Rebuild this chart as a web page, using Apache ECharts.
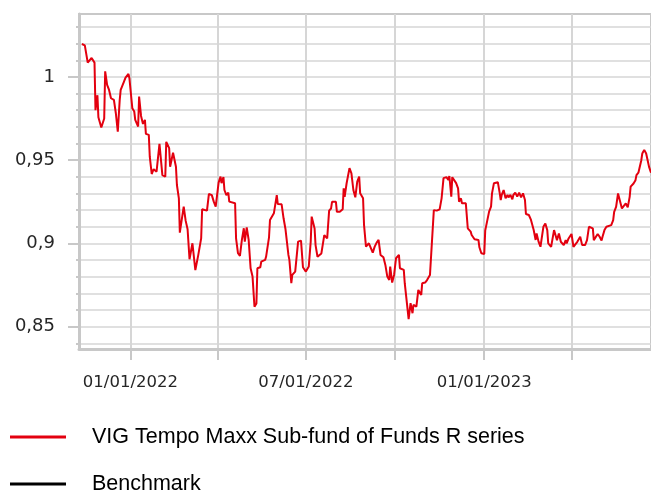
<!DOCTYPE html>
<html>
<head>
<meta charset="utf-8">
<title>VIG Tempo Maxx</title>
<script src="https://cdn.jsdelivr.net/npm/echarts@6/dist/echarts.min.js"></script>
<style>
  html, body { margin: 0; padding: 0; background: #fff; }
  #chart { width: 651px; height: 491px; }
</style>
</head>
<body>
<div id="chart"></div>
<script>
// (net asset value, rebased)
const dates = [
  '2021-11-12', '2021-11-15', '2021-11-18', '2021-11-20', '2021-11-22', '2021-11-25', '2021-11-26', '2021-11-28',
  '2021-11-29', '2021-12-01', '2021-12-02', '2021-12-05', '2021-12-06', '2021-12-08', '2021-12-10', '2021-12-12',
  '2021-12-15', '2021-12-17', '2021-12-19', '2021-12-21', '2021-12-22', '2021-12-25', '2021-12-27', '2021-12-30',
  '2021-12-31', '2022-01-02', '2022-01-03', '2022-01-05', '2022-01-06', '2022-01-09', '2022-01-10', '2022-01-12',
  '2022-01-14', '2022-01-16', '2022-01-17', '2022-01-20', '2022-01-21', '2022-01-23', '2022-01-25', '2022-01-28',
  '2022-01-31', '2022-02-03', '2022-02-06', '2022-02-07', '2022-02-10', '2022-02-11', '2022-02-13', '2022-02-14',
  '2022-02-17', '2022-02-18', '2022-02-20', '2022-02-21', '2022-02-25', '2022-02-27', '2022-03-01', '2022-03-03',
  '2022-03-06', '2022-03-09', '2022-03-12', '2022-03-15', '2022-03-16', '2022-03-21', '2022-03-23', '2022-03-26',
  '2022-03-28', '2022-03-30', '2022-04-02', '2022-04-04', '2022-04-05', '2022-04-07', '2022-04-08', '2022-04-10',
  '2022-04-12', '2022-04-13', '2022-04-19', '2022-04-20', '2022-04-22', '2022-04-24', '2022-04-26', '2022-04-28',
  '2022-04-29', '2022-04-30', '2022-05-01', '2022-05-03', '2022-05-05', '2022-05-07', '2022-05-09', '2022-05-11',
  '2022-05-12', '2022-05-15', '2022-05-16', '2022-05-20', '2022-05-21', '2022-05-23', '2022-05-24', '2022-05-25',
  '2022-05-29', '2022-06-01', '2022-06-02', '2022-06-04', '2022-06-06', '2022-06-08', '2022-06-10', '2022-06-13',
  '2022-06-14', '2022-06-16', '2022-06-17', '2022-06-19', '2022-06-20', '2022-06-22', '2022-06-23', '2022-06-26',
  '2022-06-28', '2022-07-01', '2022-07-04', '2022-07-06', '2022-07-07', '2022-07-10', '2022-07-11', '2022-07-13',
  '2022-07-17', '2022-07-20', '2022-07-23', '2022-07-25', '2022-07-27', '2022-07-28', '2022-08-01', '2022-08-02',
  '2022-08-05', '2022-08-08', '2022-08-09', '2022-08-10', '2022-08-12', '2022-08-15', '2022-08-17', '2022-08-19',
  '2022-08-21', '2022-08-23', '2022-08-25', '2022-08-26', '2022-08-29', '2022-08-30', '2022-09-01', '2022-09-04',
  '2022-09-06', '2022-09-08', '2022-09-10', '2022-09-12', '2022-09-14', '2022-09-16', '2022-09-19', '2022-09-21',
  '2022-09-23', '2022-09-25', '2022-09-26', '2022-09-28', '2022-09-30', '2022-10-02', '2022-10-05', '2022-10-06',
  '2022-10-10', '2022-10-11', '2022-10-13', '2022-10-15', '2022-10-17', '2022-10-19', '2022-10-20', '2022-10-23',
  '2022-10-25', '2022-10-28', '2022-10-29', '2022-11-01', '2022-11-03', '2022-11-06', '2022-11-10', '2022-11-13',
  '2022-11-16', '2022-11-18', '2022-11-20', '2022-11-23', '2022-11-25', '2022-11-26', '2022-11-28', '2022-11-29',
  '2022-12-01', '2022-12-03', '2022-12-05', '2022-12-06', '2022-12-08', '2022-12-09', '2022-12-11', '2022-12-13',
  '2022-12-15', '2022-12-18', '2022-12-19', '2022-12-22', '2022-12-26', '2022-12-27', '2022-12-29', '2023-01-01',
  '2023-01-02', '2023-01-04', '2023-01-06', '2023-01-08', '2023-01-09', '2023-01-11', '2023-01-13', '2023-01-15',
  '2023-01-17', '2023-01-18', '2023-01-19', '2023-01-21', '2023-01-23', '2023-01-25', '2023-01-26', '2023-01-28',
  '2023-01-30', '2023-01-31', '2023-02-02', '2023-02-04', '2023-02-06', '2023-02-08', '2023-02-10', '2023-02-12',
  '2023-02-13', '2023-02-16', '2023-02-18', '2023-02-19', '2023-02-21', '2023-02-22', '2023-02-23', '2023-02-24',
  '2023-02-26', '2023-02-28', '2023-03-03', '2023-03-05', '2023-03-07', '2023-03-08', '2023-03-11', '2023-03-13',
  '2023-03-14', '2023-03-16', '2023-03-17', '2023-03-19', '2023-03-21', '2023-03-22', '2023-03-24', '2023-03-26',
  '2023-03-27', '2023-03-29', '2023-04-01', '2023-04-02', '2023-04-03', '2023-04-05', '2023-04-07', '2023-04-10',
  '2023-04-12', '2023-04-15', '2023-04-17', '2023-04-19', '2023-04-21', '2023-04-23', '2023-04-24', '2023-04-26',
  '2023-04-28', '2023-04-30', '2023-05-02', '2023-05-03', '2023-05-05', '2023-05-07', '2023-05-09', '2023-05-12',
  '2023-05-14', '2023-05-15', '2023-05-17', '2023-05-19', '2023-05-21', '2023-05-23', '2023-05-25', '2023-05-27',
  '2023-05-29', '2023-05-31', '2023-06-01', '2023-06-04', '2023-06-06', '2023-06-07', '2023-06-09', '2023-06-11',
  '2023-06-12', '2023-06-13', '2023-06-15', '2023-06-17', '2023-06-19', '2023-06-20', '2023-06-22'
]
const fundValues = [
  1.0198, 1.019, 1.0086, 1.0098, 1.0114, 1.0086, 0.980, 0.989,
  0.9758, 0.975, 0.9696, 0.975, 1.0034, 0.9952, 0.9922, 0.9872,
  0.9862, 0.9782, 0.9671, 0.9862, 0.9922, 0.9966, 0.9996, 1.0018,
  0.9992, 0.9998, 0.9812, 0.9792, 0.9742, 0.9702, 0.9882, 0.9766,
  0.9718, 0.9742, 0.9658, 0.9652, 0.9521, 0.9417, 0.9446, 0.9431,
  0.9598, 0.941, 0.9401, 0.961, 0.9572, 0.9461, 0.9458, 0.9545,
  0.9461, 0.9351, 0.9271, 0.9065, 0.9221, 0.9137, 0.9085, 0.8905,
  0.9001, 0.884, 0.893, 0.903, 0.9205, 0.9197, 0.9297, 0.929,
  0.9251, 0.9221, 0.9365, 0.9401, 0.9362, 0.9398, 0.9321, 0.929,
  0.9305, 0.9251, 0.9241, 0.9031, 0.8941, 0.8925, 0.9021, 0.9091,
  0.9011, 0.9011, 0.9097, 0.9021, 0.8851, 0.8801, 0.862, 0.864,
  0.8851, 0.8857, 0.8891, 0.8901, 0.8921, 0.8931, 0.9037, 0.9141,
  0.9181, 0.929, 0.9237, 0.9231, 0.9235, 0.9151, 0.9085, 0.8931,
  0.8901, 0.8761, 0.8811, 0.8801, 0.8831, 0.882, 0.9011, 0.9017,
  0.8857, 0.8831, 0.8861, 0.9011, 0.9161, 0.909, 0.899, 0.892,
  0.894, 0.905, 0.903, 0.9197, 0.921, 0.925, 0.925, 0.919,
  0.919, 0.9205, 0.9331, 0.928, 0.936, 0.9452, 0.9421, 0.9321,
  0.9277, 0.9371, 0.9401, 0.9301, 0.9271, 0.9111, 0.8981, 0.9001,
  0.9011, 0.8945, 0.8981, 0.9005, 0.9021, 0.8931, 0.8917, 0.8871,
  0.8801, 0.8781, 0.8861, 0.8765, 0.8811, 0.8911, 0.8931, 0.8851,
  0.8841, 0.8761, 0.8757, 0.8545, 0.8641, 0.8581, 0.8631, 0.862,
  0.8721, 0.8691, 0.8761, 0.8765, 0.878, 0.881, 0.920, 0.9197,
  0.9205, 0.9271, 0.9392, 0.9398, 0.9381, 0.9405, 0.9281, 0.9398,
  0.9392, 0.9362, 0.9331, 0.9251, 0.9271, 0.9241, 0.9251, 0.9241,
  0.9091, 0.9071, 0.9051, 0.9025, 0.9021, 0.8977, 0.8941, 0.8937,
  0.9077, 0.9081, 0.9191, 0.9221, 0.9301, 0.9362, 0.9357, 0.9368,
  0.9301, 0.9261, 0.9291, 0.9321, 0.9271, 0.9291, 0.9277, 0.9291,
  0.9265, 0.9291, 0.9305, 0.9281, 0.9305, 0.9277, 0.9301, 0.9261,
  0.9177, 0.9171, 0.9145, 0.914, 0.9081, 0.9051, 0.9021, 0.906,
  0.9011, 0.898, 0.910, 0.912, 0.908, 0.900, 0.898, 0.897,
  0.908, 0.904, 0.902, 0.906, 0.901, 0.902, 0.899, 0.902,
  0.900, 0.903, 0.9057, 0.905, 0.898, 0.899, 0.901, 0.904,
  0.899, 0.899, 0.902, 0.910, 0.9105, 0.909, 0.902, 0.903,
  0.9057, 0.904, 0.9017, 0.904, 0.908, 0.910, 0.911, 0.911,
  0.914, 0.919, 0.922, 0.930, 0.9305, 0.921, 0.922, 0.924,
  0.9217, 0.928, 0.9341, 0.936, 0.938, 0.941, 0.9425, 0.943,
  0.950, 0.954, 0.9562, 0.954, 0.953, 0.946, 0.9425
]
// benchmark is in the legend but has no line in the picture
const benchmarkValues = []
const seriesNames = ['VIG Tempo Maxx Sub-fund of Funds R series', 'Benchmark']

const xRange = ['2021-11-09', '2023-06-22']
const quarterTicks = ['2022-01-01', '2022-04-01', '2022-07-01', '2022-10-01', '2023-01-01', '2023-04-01']
const dateLabels = ['2022-01-01', '2022-07-01', '2023-01-01']
const yRange = [0.8366, 1.0378]
const yLabels = [0.85, 0.9, 0.95, 1]
const yGridValues = [0.84, 0.85, 0.86, 0.87, 0.88, 0.89, 0.9, 0.91, 0.92, 0.93,
  0.94, 0.95, 0.96, 0.97, 0.98, 0.99, 1, 1.01, 1.02, 1.03]

const ts = s => +echarts.time.parse(s)
const axisGrey = '#c8c8c8'
const gridGrey = '#d6d6d6'

// one legend box per entry, stacked under the chart
const legendItem = (name, top) => ({
  data: [name],
  orient: 'vertical',
  left: 10,
  top: top,
  padding: 0,
  icon: 'rect',
  itemWidth: 56,
  itemHeight: 3,
  textStyle: {
    fontFamily: 'Liberation Sans',
    fontSize: 21.5,
    color: '#000',
    padding: [0, 0, 0, 21]
  }
})

const chart = echarts.init(document.getElementById('chart'))
const option = {
  animation: false,
  grid: {
    left: 79,
    top: 14,
    right: -2,
    bottom: 142,
    show: true,
    borderColor: axisGrey,
    borderWidth: 2
  },
  legend: [legendItem(seriesNames[0], 426), legendItem(seriesNames[1], 473)],
  // timestamps on a value axis, so the quarter lines can be placed exactly
  xAxis: {
    type: 'value',
    min: ts(xRange[0]),
    max: ts(xRange[1]),
    axisLine: { lineStyle: { color: axisGrey, width: 3 } },
    axisTick: {
      customValues: quarterTicks.map(ts),
      length: 11,
      lineStyle: { color: axisGrey, width: 2 }
    },
    axisLabel: {
      customValues: dateLabels.map(ts),
      formatter: v => echarts.time.format(v, '{MM}/{dd}/{yyyy}', false),
      fontFamily: 'DejaVu Sans',
      fontSize: 16.5,
      color: '#262626',
      margin: 25
    },
    splitLine: { show: true, lineStyle: { color: gridGrey, width: 2 } }
  },
  yAxis: [{
    type: 'value',
    position: 'left',
    min: yRange[0],
    max: yRange[1],
    axisLine: { show: true, lineStyle: { color: axisGrey, width: 3 } },
    axisTick: {
      show: true,
      customValues: yLabels,
      length: 11,
      lineStyle: { color: axisGrey, width: 2 }
    },
    axisLabel: {
      customValues: yLabels,
      formatter: v => String(v).replace('.', ','),
      fontFamily: 'DejaVu Sans',
      fontSize: 18,
      color: '#262626',
      margin: 24
    },
    splitLine: { show: false }
  }, {
    // minor grid every 0.01
    type: 'value',
    position: 'left',
    min: yRange[0],
    max: yRange[1],
    axisLine: { show: false },
    axisTick: {
      show: true,
      customValues: yGridValues,
      length: 3,
      lineStyle: { color: axisGrey, width: 2 }
    },
    axisLabel: { show: false },
    splitLine: { show: true, lineStyle: { color: gridGrey, width: 1.5 } }
  }],
  series: [{
    name: seriesNames[0],
    type: 'line',
    data: dates.map((d, i) => [ts(d), fundValues[i]]),
    showSymbol: false,
    color: '#e3000f',
    lineStyle: { width: 2 },
    z: 5
  }, {
    name: seriesNames[1],
    type: 'line',
    data: benchmarkValues,
    showSymbol: false,
    color: '#000',
    lineStyle: { width: 2 }
  }]
}
chart.setOption(option)
</script>
</body>
</html>
